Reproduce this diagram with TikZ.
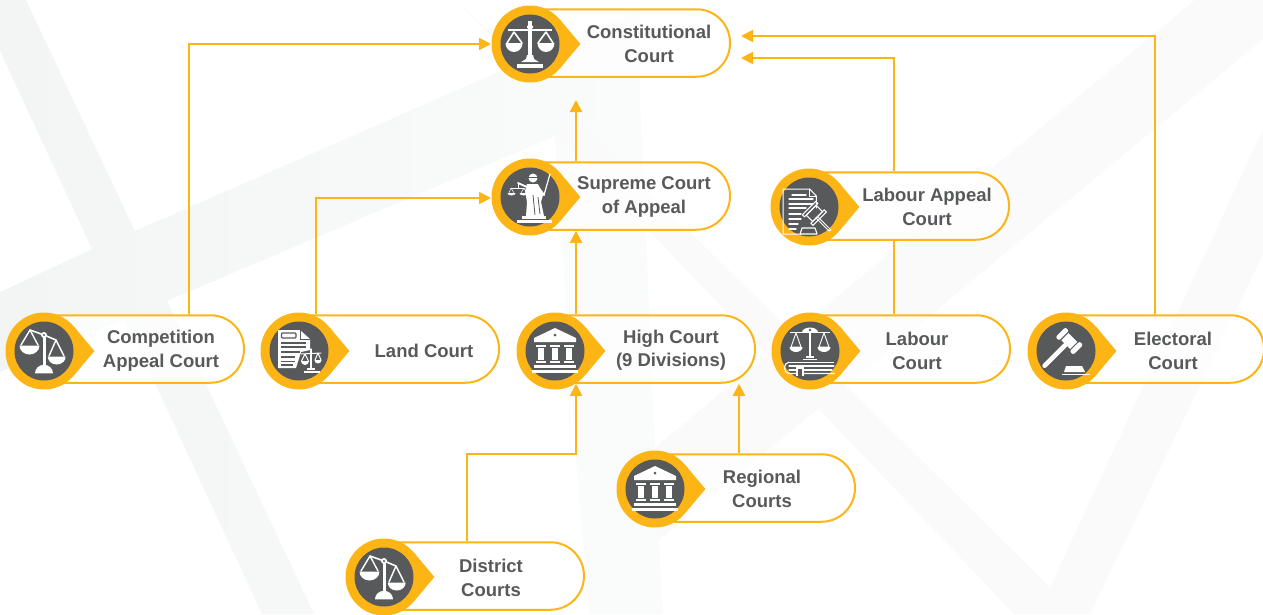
\documentclass[tikz,border=0pt]{standalone}
\usepackage{fontspec}
\setmainfont{Liberation Sans}
\usetikzlibrary{arrows.meta}
\definecolor{amber}{HTML}{FDB515}
\definecolor{slate}{HTML}{58595B}
\definecolor{washA}{HTML}{F3F5F5}
\definecolor{washB}{HTML}{FAFAFA}
\definecolor{washC}{HTML}{FAFBFB}
\tikzset{
  pill/.style={draw=amber,line width=2pt,fill=white,fill opacity=.7,rounded corners=33.5pt,inner sep=0pt,minimum width=219pt,minimum height=67.5pt},
  lbl/.style={text=slate,font=\fontsize{18.5}{24}\selectfont\bfseries,align=center,inner sep=0pt},
  link/.style={draw=amber,line width=2pt},
  tip/.style={link,-{Triangle[length=12pt,width=12pt]}},
  ico/.style={draw=white,line width=1.2pt,line cap=round,line join=round},
  badge/.style={circle,fill=amber,minimum size=77pt,inner sep=0pt}
}
\newcommand{\pin}[3]{%
  \begin{scope}[shift={(#2,#3)}]
    \fill[amber] (30,-24.3) -- (50.4,0) -- (30,24.3) -- cycle;
    \node[badge] (#1) at (0,0) {};
    \fill[slate] (0,0) circle[radius=29.5];
  \end{scope}}
\newcommand{\place}[3]{\begin{scope}[shift={(#1,#2)}]#3\end{scope}}
% bowl hanging from (x,y): x centre, y rim, half width, depth
\newcommand{\bowl}[4]{\fill[white] (#1-#3,#2) arc[start angle=180,end angle=360,x radius=#3,y radius=-#4] -- cycle;}
\newcommand{\icoScale}{%
  \fill[white] (-1.8,-23) rectangle (1.8,12);
  \fill[white] (0,-23) -- (1,-19) -- (3,-18) -- (3,-16) -- (-3,-16) -- (-3,-18) -- (-1,-19) -- cycle;
  \fill[white] (-22,-15.2) rectangle (22,-13);
  \draw[ico,line width=1.6pt] (-16,-12)--(-23,-1) (-16,-12)--(-8,-1) (16,-12)--(23,-1) (16,-12)--(8,-1);
  \bowl{-16}{-1}{8.5}{9}\bowl{16}{-1}{8.5}{9}
  \fill[white] (-3,11) -- (3,11) -- (4,15) -- (9,18) -- (-9,18) -- (-4,15) -- cycle;
  \fill[white] (-13,19.5) rectangle (13,24);}
\newcommand{\icoTilt}{%
  \fill[white] (-1.5,-16) rectangle (1.5,15);
  \draw[ico,line width=1.6pt] (-14,-21) -- (0,-16) -- (12,-11);
  \fill[white] (0,-16) circle[radius=3];
  \fill[slate] (0,-16) circle[radius=1.2];
  \draw[ico,line width=1.4pt] (-14,-21)--(-23,-6) (-14,-21)--(-6,-6) (12,-11)--(5,5) (12,-11)--(20,5);
  \bowl{-14.5}{-5.5}{10}{9}
  \bowl{12.7}{5.5}{9}{8}
  \fill[white] (-9,22.3) arc[start angle=180,end angle=360,x radius=9,y radius=8.5] -- cycle;}
\newcommand{\icoTemple}{%
  \fill[white] (0,-23) -- (21,-13) -- (21,-9) -- (-21,-9) -- (-21,-13) -- cycle;
  \fill[slate] (0,-16) circle[radius=1.5];
  \foreach \x in {-14,0,14}{
    \fill[white] (\x-5,-6.5) rectangle (\x+5,-4.5);
    \fill[white] (\x-3.2,-3.5) rectangle (\x+3.2,9);
    \fill[white] (\x-5,10) rectangle (\x+5,12);}
  \fill[white] (-21,14) rectangle (21,17);
  \fill[white] (-23,18.5) rectangle (23,22);}
\newcommand{\icoLandDoc}{%
  \fill[white] (-21,-21) -- (1,-21) -- (11,-12) -- (11,-1) -- (2,1) -- (-3,17) -- (-21,17) -- cycle;
  \draw[slate,line width=.7pt] (1,-21) -- (1,-12) -- (11,-12);
  \draw[slate,line width=1.1pt,rounded corners=1pt] (-17.5,-18) rectangle (-3,-13);
  \foreach \y/\l in {-8/7,-4/7,1/1,6/-4,10.5/-4,14/-6}{\draw[slate,line width=1.1pt] (-18,\y) -- (\l,\y);}
  \draw[ico,line width=1.4pt] (12,-2)--(12,18);
  \draw[ico,line width=1pt] (2,3)--(22,2) (6,3)--(2.5,10) (6,3)--(9.5,10) (19,2)--(16,9) (19,2)--(22,9);
  \bowl{6}{10}{4}{4}\bowl{19}{9}{3.5}{3.5}
  \fill[white] (8,17) rectangle (16,19);
  \fill[white] (5,20) rectangle (21,22);}
\newcommand{\icoGavel}{%
  \begin{scope}[shift={(3.3,-10)},rotate=45]
    \draw[white,line width=4.5pt,line cap=round] (-35,0) -- (-6,0);
    \fill[white] (-5,-6.2) rectangle (5,6.2);
    \fill[white,rounded corners=2pt] (-7,7.5) rectangle (7,12.5);
    \fill[white,rounded corners=2pt] (-7,-12.5) rectangle (7,-7.5);
  \end{scope}
  \fill[white] (-2,21) -- (0,15) -- (16,15) -- (19,21) -- cycle;
  \fill[white] (-4,23) rectangle (24,24.2);}
\newcommand{\icoDocGavel}{%
  \draw[ico,line width=1pt] (-8,27) -- (-26,27) -- (-26,-18) -- (0.7,-18) -- (7.3,-11) -- (7.3,1);
  \draw[ico,line width=1pt] (0.7,-18) -- (0.7,-11) -- (7.3,-11);
  \foreach \a/\y/\l in {-17/-12/-3,-20/-8/4,-20/-3/4,-20/1/-3,-20/7/-8,-20/12/-8,-20/17/-11,-20/22/-13}{\draw[ico,line width=1.3pt] (\a,\y) -- (\l,\y);}
  \draw[ico,line width=1pt] (9,10) -- (20,21) -- (22,23) -- (20,24) -- (7,11);
  \begin{scope}[shift={(5,6)},rotate=45]
    \draw[ico,line width=1.1pt] (-7,-4) rectangle (7,5);
    \draw[ico,line width=1.1pt] (-9.5,5) rectangle (9.5,8);
    \draw[ico,line width=1.1pt] (-9.5,-7) rectangle (9.5,-4);
  \end{scope}
  \draw[ico,line width=1.1pt] (-9,27) -- (-7,21) -- (6,21) -- (8,27) -- cycle;
}
\newcommand{\icoScaleBook}{%
  \fill[white] (-1.2,-19) rectangle (1.2,6);
  \fill[white] (-20,-19.5) rectangle (20,-18);
  \fill[white] (-8,-18.5) arc[start angle=180,end angle=360,x radius=8,y radius=5] -- cycle;
  \fill[slate] (0,-21) circle[radius=1.4];
  \draw[ico,line width=.9pt] (-14,-18)--(-19,-4)--(-9,-4)--cycle (14,-18)--(19,-4)--(9,-4)--cycle;
  \bowl{-14}{-4}{6.5}{5}\bowl{14}{-4}{6.5}{5}
  \fill[white] (-4,5) rectangle (4,7);
  \fill[white] (-7,7.5) rectangle (7,9);
  \fill[white] (-21,10.5) rectangle (24,12);
  \draw[ico,line width=1.1pt] (-21,11.2) .. controls (-27,11.2) and (-27,22.5) .. (-21,22.5) -- (24,22.5);
  \draw[ico,line width=1.1pt] (-21,15) -- (24,15);
  \draw[ico,line width=1.1pt] (-21,19) -- (22,19);
  \fill[white] (-14,15) rectangle (-6,25);
  \fill[slate] (-12,18) rectangle (-8,25);}
\newcommand{\icoJustice}{%
  \fill[white] (-13,22.5) rectangle (22,26);
  \fill[white] (-8,19) rectangle (16,22);
  % robe
  \fill[white] (-3,-13) -- (8,-13) -- (13,-2) -- (11,5) -- (14,19) -- (-4,19) -- (-3,5) -- (-5,-6) -- cycle;
  \draw[slate,line width=.8pt] (3,-2) -- (5,18) (8,0) -- (10,17);
  % head
  \fill[white] (3,-19) circle[radius=4.5];
  \fill[slate] (-2,-20.5) rectangle (8,-19.2);
  % balance arm
  \draw[ico,line width=1.8pt] (-3,-10) -- (-12,-14);
  \draw[ico,line width=.9pt] (-12,-14) -- (-12,-9);
  \draw[ico,line width=.9pt] (-19,-9) -- (-6,-9);
  \draw[ico,line width=.5pt] (-19,-9) -- (-21,-4) (-19,-9) -- (-16,-4) (-6,-9) -- (-9,-4) (-6,-9) -- (-3.5,-4);
  \bowl{-18.5}{-4}{4}{2.5}\bowl{-6.5}{-4}{4}{2.5}
  % sword and right arm
  \draw[ico,line width=1.2pt] (20,-23) -- (14,-2);
  \draw[ico,line width=2pt] (8,-10) -- (14,-2);}
\begin{document}
\begin{tikzpicture}[x=1pt,y=-1pt]
\useasboundingbox (0,0) rectangle (1263,614);
\clip (0,0) rectangle (1263,614);
% faint background shapes
\fill[washC] (555,137) -- (640,100) -- (659,540) -- (663,614) -- (590,614) -- (579,501) -- cycle;
\fill[washB] (659,540) -- (820,407) -- (1263,39) -- (1263,0) -- (1195,0) -- (640,460) -- cycle;
\fill[washB] (455,0) -- (1050,587) -- (1263,129) -- (1263,254) -- (1090,614) -- (1014,614) -- (560,137) -- (555,90) -- cycle;
\shade[left color=washA,right color=washC] (0,0) -- (26,0) -- (135,231) -- (640,10) -- (640,100) -- (167,301) -- (314,614) -- (262,614) -- (125,319) -- (0,372) -- (0,292) -- (92,249) -- (0,51) -- cycle;
% pills
\node[pill] (constPill) at (620.5,43) {};
\node[pill] (supPill) at (620.5,196) {};
\node[pill] (labAppPill) at (899.5,206) {};
\node[pill] (compPill) at (134.5,349) {};
\node[pill] (landPill) at (389.5,349) {};
\node[pill] (highPill) at (645.5,349) {};
\node[pill] (labPill) at (900.5,349) {};
\node[pill] (elecPill) at (1154.5,349) {};
\node[pill] (regPill) at (745.5,488) {};
\node[pill] (distPill) at (474.5,576) {};
% connector helpers
\coordinate (freeSup) at (576,100);
\coordinate (cIn) at (491,44);
\coordinate (sIn) at (491,198);
\coordinate (c1) at (741,36);
\coordinate (c2) at (741,58);
\coordinate (compTop) at (189,315);
\coordinate (landTop) at (316,315);
\coordinate (lx) at (894,0);
\coordinate (ex) at (1155,0);
\coordinate (rx) at (739,0);
\coordinate (dx) at (467,0);
\coordinate (dy) at (0,454);
% connectors
\draw[tip] (compPill.north -| compTop) -- (compTop |- cIn) -- (cIn);
\draw[tip] (landPill.north -| landTop) -- (landTop |- sIn) -- (sIn);
\draw[tip] (supPill.north -| freeSup) -- (freeSup);
\draw[tip] (highPill.north -| freeSup) -- (supPill.south -| freeSup);
\draw[link] (labPill.north -| lx) -- (labAppPill.south -| lx);
\draw[tip] (labAppPill.north -| lx) -- (lx |- c2) -- (c2);
\draw[tip] (elecPill.north -| ex) -- (ex |- c1) -- (c1);
\draw[tip] (regPill.north -| rx) -- (highPill.south -| rx);
\draw[tip] (distPill.north -| dx) -- (dx |- dy) -- (freeSup |- dy) -- (highPill.south -| freeSup);
% badges and icons
\pin{constPin}{530}{44}\place{530}{44}{\icoScale}
\pin{supPin}{530}{197}\place{530}{197}{\icoJustice}
\pin{labAppPin}{809}{207}\place{809}{207}{\icoDocGavel}
\pin{compPin}{44}{351}\place{44}{351}{\icoTilt}
\pin{landPin}{299}{351}\place{299}{351}{\icoLandDoc}
\pin{highPin}{555}{351}\place{555}{351}{\icoTemple}
\pin{labPin}{810}{351}\place{810}{351}{\icoScaleBook}
\pin{elecPin}{1066}{351}\place{1066}{351}{\icoGavel}
\pin{regPin}{655}{489}\place{655}{489}{\icoTemple}
\pin{distPin}{384}{577}\place{384}{577}{\icoTilt}
% labels
\node[lbl] (constT) at (649,43.5) {Constitutional\\Court};
\node[lbl] (supT) at (644,196.5) {Supreme Court\\of Appeal};
\node[lbl] (labAppT) at (927,206.5) {Labour Appeal\\Court};
\node[lbl] (compT) at (161,350.5) {Competition\\Appeal Court};
\node[lbl] (landT) at (424,350.5) {Land Court};
\node[lbl] (highT) at (671,350) {High Court\\[-1pt](9 Divisions)};
\node[lbl] (labT) at (917,350.5) {Labour\\Court};
\node[lbl] (elecT) at (1173,350.5) {Electoral\\Court};
\node[lbl] (regT) at (762,488.5) {Regional\\Courts};
\node[lbl] (distT) at (491,577.5) {District\\Courts};
\end{tikzpicture}
\end{document}
